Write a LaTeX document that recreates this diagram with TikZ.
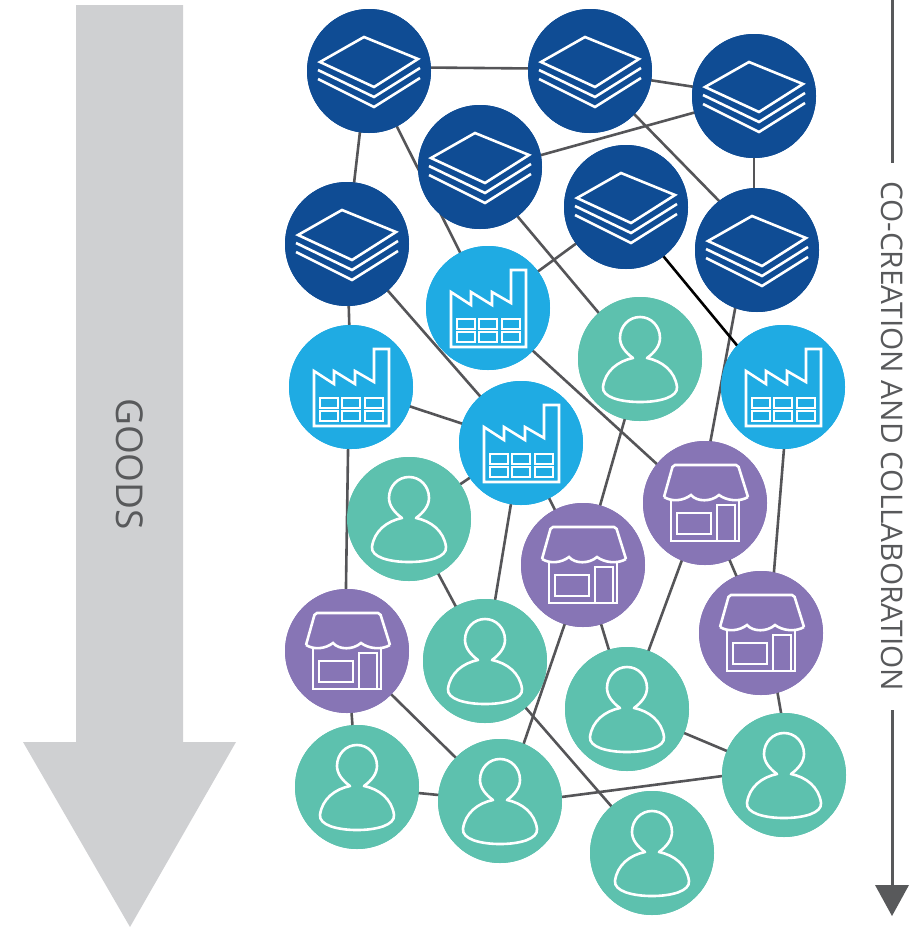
\documentclass[tikz,border=0pt]{standalone}
\usepackage{fontspec}
\setmainfont{Open Sans}
\definecolor{navy}{HTML}{0F4C94}
\definecolor{sky}{HTML}{1FABE3}
\definecolor{mint}{HTML}{5DC1AE}
\definecolor{plum}{HTML}{8775B5}
\definecolor{arrowgrey}{HTML}{CFD0D2}
\definecolor{linkgrey}{HTML}{555558}
\definecolor{inkgrey}{HTML}{58595B}
\newcommand{\layersicon}[1]{\begin{scope}[shift={(#1)},icon]
\draw[line join=miter] (-49,-9) -- (-5,-34) -- (49,-12) -- (5,16) -- cycle;
\draw (-51,-1) -- (5,26) -- (51,-3);
\draw (-51,8) -- (5,36) -- (51,7);
\end{scope}}
\newcommand{\factoryicon}[1]{\begin{scope}[shift={(#1)},icon]
\draw (-37,-16) -- (-37,39) -- (38,39) -- (38,-38) -- (23,-38) -- (23,-5) -- (4,-16) -- (4,-3) -- (-17,-16) -- (-17,-3) -- cycle;
\foreach \xx in {-31,-9,14}{\foreach \yy in {11,24}{
\draw[thin icon] (\xx,\yy) rectangle +(18,10);}}
\end{scope}}
\newcommand{\shopicon}[1]{\begin{scope}[shift={(#1)},icon]
\draw[rounded corners=2pt] (-41,-6) -- (-32,-38) -- (33,-38) -- (43,-6);
\draw (-41,-6) .. controls (-33,-1) and (-22,-2) .. (-14,-8) .. controls (-8,-1) and (6,-1) .. (14,-8) .. controls (22,-2) and (35,-1) .. (43,-6);
\draw (-34,-3) -- (-34,38) -- (34,38) -- (34,-3);
\draw[thin icon] (-28,10) rectangle (6,31);
\draw[thin icon] (12,2) rectangle (30,38);
\end{scope}}
\newcommand{\personicon}[1]{\begin{scope}[shift={(#1)},icon]
\draw[line join=round] (-7,-1) .. controls (-14,-6) and (-20,-13) .. (-20,-21) .. controls (-20,-33) and (-11,-42) .. (0,-42) .. controls (11,-42) and (20,-33) .. (20,-21) .. controls (20,-13) and (14,-6) .. (7,-1) .. controls (22,2) and (35,12) .. (37,28) .. controls (38,38) and (20,43) .. (0,43) .. controls (-20,43) and (-38,38) .. (-37,28) .. controls (-35,12) and (-22,2) .. (-7,-1) -- cycle;
\end{scope}}
\begin{document}
\begin{tikzpicture}[x=1pt,y=-1pt,
  icon/.style={draw=white,line width=2.6pt,fill=none},
  thin icon/.style={line width=1.8pt},
  hub/.style={circle,minimum size=124pt,inner sep=0pt,outer sep=0pt},
  layerhub/.style={hub,fill=navy},
  factoryhub/.style={hub,fill=sky},
  shophub/.style={hub,fill=plum},
  personhub/.style={hub,fill=mint},
  link/.style={draw=linkgrey,line width=2.6pt},
  sidelabel/.style={text=inkgrey,inner sep=0pt}]
\useasboundingbox (0,0) rectangle (920,927);
% nodes
\node[layerhub] (d1) at (369,71) {};
\node[layerhub] (d2) at (590,71) {};
\node[layerhub] (d3) at (754,96) {};
\node[layerhub] (d4) at (480,167) {};
\node[layerhub] (d5) at (626,207) {};
\node[layerhub] (d6) at (347,244) {};
\node[layerhub] (d7) at (757,250) {};
\node[factoryhub] (f1) at (488,308) {};
\node[factoryhub] (f2) at (351,387) {};
\node[factoryhub] (f3) at (521,443) {};
\node[factoryhub] (f4) at (783,387) {};
\node[personhub] (p1) at (640,359) {};
\node[personhub] (p2) at (409,519) {};
\node[personhub] (p3) at (485,661) {};
\node[personhub] (p4) at (627,709) {};
\node[personhub] (p5) at (357,787) {};
\node[personhub] (p6) at (500,801) {};
\node[personhub] (p7) at (652,853) {};
\node[personhub] (p8) at (784,775) {};
\node[shophub] (s1) at (705,503) {};
\node[shophub] (s2) at (583,565) {};
\node[shophub] (s3) at (761,633) {};
\node[shophub] (s4) at (347,651) {};
% links: from-node / to-node / offsets at each end where the line misses the centre
\foreach \a/\ax/\ay/\b/\bx/\by in {
  d1/0/-4/d2/0/-2, d2/0/0/d3/0/0, d1/-2/0/d6/0/0, d3/0/0/d4/0/5, d3/0/0/d7/-3/0,
  d5/0/0/f1/0/0, d6/0/0/f2/0/0, f2/0/0/f3/0/0, f2/-2/0/s4/-2/0, f3/0/0/p2/0/0,
  f3/0/0/s2/0/0, f3/0/0/p3/0/0, p1/2/0/s2/0/0, f4/6/0/s3/8/0, s1/0/0/s3/0/0,
  s1/-2/0/p4/0/0, s2/2/0/p6/4/0, s2/0/0/p4/0/0, p2/0/0/p3/0/0, s4/0/0/p5/0/0,
  s4/0/0/p6/0/0, p3/0/0/p7/0/0, p4/0/0/p8/0/0, s3/6/0/p8/8/0, p5/0/0/p6/0/0,
  p6/0/4/p8/0/-7, d7/-11/0/s1/-6/0, d6/0/0/f3/0/0, f1/-2/0/s1/0/5, d1/0/0/f1/0/0,
  d2/2/0/d7/10/0, d4/-4/0/p1/0/3}
  \draw[link] ([shift={(\ax,\ay)}]\a.center) -- ([shift={(\bx,\by)}]\b.center);
\draw[link,draw=black] ([yshift=-4pt]d5.center) -- ([yshift=-14pt]f4.center);
% hubs again above the links' offset ends are not needed: redraw discs over links
\foreach \n in {d1,d2,d3,d4,d5,d6,d7}{\fill[navy] (\n) circle (62);\layersicon{\n}}
\foreach \n in {f1,f2,f3,f4}{\fill[sky] (\n) circle (62);\factoryicon{\n}}
\foreach \n in {p1,p2,p3,p4,p5,p6,p7,p8}{\fill[mint] (\n) circle (62);\personicon{\n}}
\foreach \n in {s1,s2,s3,s4}{\fill[plum] (\n) circle (62);\shopicon{\n}}
% goods arrow
\fill[arrowgrey] (76,5) -- (183,5) -- (183,742) -- (236,742) -- (130,927) -- (23,742) -- (76,742) -- cycle;
\node[sidelabel,rotate=-90,font=\fontsize{37pt}{37pt}\selectfont] (goods) at (130,464) {GOODS};
% co-creation
\node[sidelabel,rotate=-90,font=\fontsize{29.8pt}{30pt}\selectfont] (cc) at (892,436) {CO-CREATION AND COLLABORATION};
\coordinate (top) at (892,0);
\coordinate (upperend) at (892,163);
\coordinate (lowerstart) at (892,710);
\coordinate (neck) at (892,888);
\coordinate (tipc) at (892,916);
\draw[draw=inkgrey,line width=3pt] (top) -- (upperend);
\draw[draw=inkgrey,line width=3pt] (lowerstart) -- (neck);
\fill[inkgrey] (875,885) -- (909,885) -- (tipc) -- cycle;
\end{tikzpicture}
\end{document}
